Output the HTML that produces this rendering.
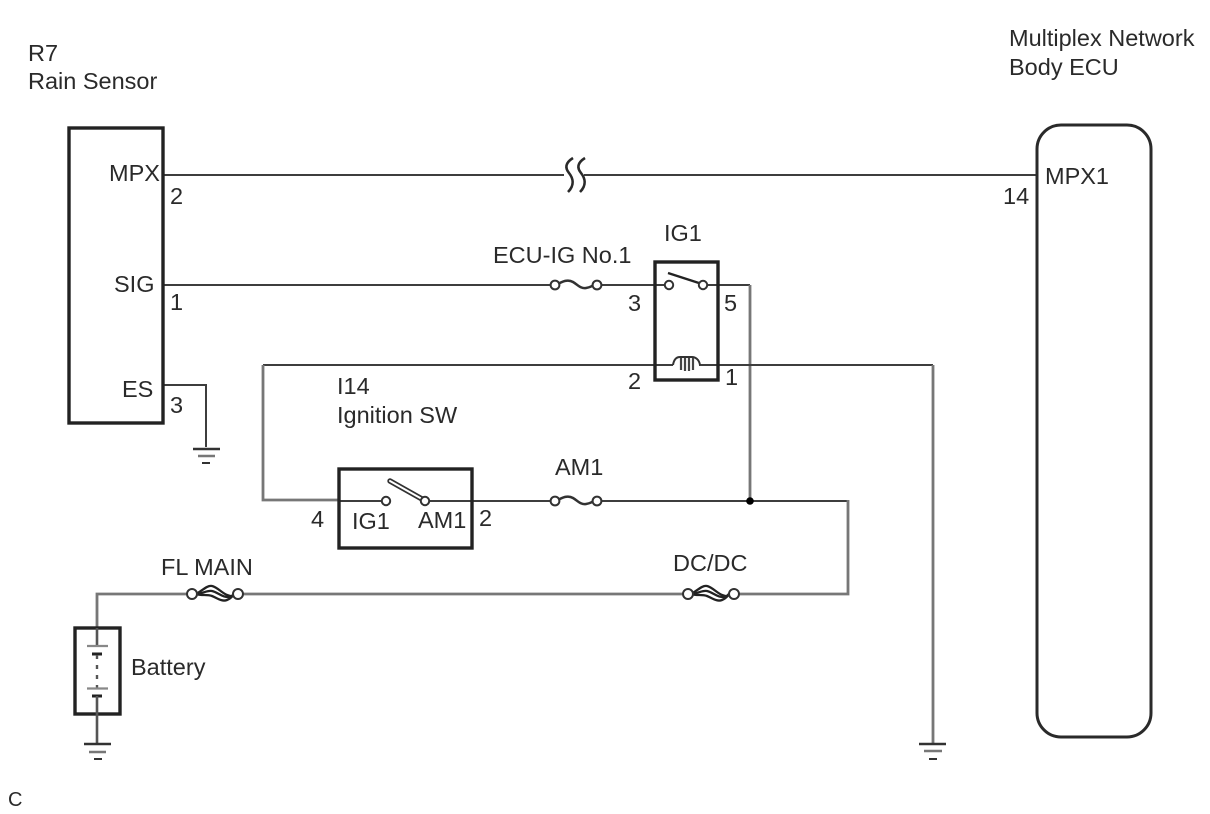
<!DOCTYPE html>
<html><head><meta charset="utf-8"><style>
html,body{margin:0;padding:0;background:#fff;width:1210px;height:814px;overflow:hidden}
svg{display:block}
text{font-family:"Liberation Sans",Arial,sans-serif;font-size:23.5px;fill:#2a2a2a}
.w{fill:none;stroke:#3c3c3c;stroke-width:2}
.g{fill:none;stroke:#777;stroke-width:2.8}
.b{fill:none;stroke:#222;stroke-width:3.4}
.c{fill:#fff;stroke:#333;stroke-width:2}
.f{fill:none;stroke:#333;stroke-width:2.5}
.gnd{stroke:#333;fill:none}
</style></head><body>
<svg width="1210" height="814" viewBox="0 0 1210 814" xmlns="http://www.w3.org/2000/svg">
<defs>
<filter id="s" x="-2%" y="-2%" width="104%" height="104%"><feGaussianBlur stdDeviation="0.35"/></filter>
</defs>
<g filter="url(#s)">
<!-- wires -->
<path class="w" d="M163 175H564M584 175H1037"/>
<path d="M573 158c-8 5-8 10-4 15s6 12-1 19M585 158c-8 5-8 10-4 15s6 12-1 19" fill="none" stroke="#2a2a2a" stroke-width="2.6"/>
<path class="w" d="M163 285H551M599 285H665"/>
<path class="w" d="M163 385H206V447"/>
<path class="w" d="M703 285H750"/>
<path class="g" d="M750 285V500" stroke-width="2.4"/>
<path class="w" d="M263 365H673M699 365H933"/>
<path class="g" d="M263 365V500H339" stroke-width="2.4"/>
<path class="g" d="M933 365V744" stroke-width="2.6"/>
<path class="w" d="M339 501H386M425 501H551M599 501H848"/>
<path class="g" d="M848 500V594H738M684 594H238M188 594H97V628"/>
<circle cx="750" cy="501" r="3.8" fill="#000"/>

<!-- boxes -->
<rect class="b" x="69" y="128" width="94" height="295"/>
<rect x="1037" y="125" width="114" height="612" rx="24" ry="24" fill="none" stroke="#2a2a2a" stroke-width="3"/>
<rect class="b" x="655" y="262" width="63" height="118"/>
<rect class="b" x="339" y="469" width="133" height="79"/>
<rect class="b" x="75" y="628" width="45" height="86" stroke="#333"/>

<!-- relay switch -->
<path d="M668 273L702 284" stroke="#222" stroke-width="2.4" fill="none"/>
<circle class="c" cx="669" cy="285" r="4.2"/>
<circle class="c" cx="703" cy="285" r="4.2"/>
<!-- relay coil -->
<path d="M673 365c1-6 4-8 7-8h12c3 0 7 2 8 8" fill="#fff" stroke="#333" stroke-width="2"/>
<path d="M681 358v12M685 358v13M689 358v13M693 358v12" stroke="#444" stroke-width="2.2" fill="none"/>

<!-- ignition switch -->
<path d="M390 481L422 499" stroke="#333" stroke-width="5.4" fill="none" stroke-linecap="round"/>
<path d="M390 481L422 499" stroke="#fff" stroke-width="2" fill="none" stroke-linecap="round"/>
<circle class="c" cx="386" cy="501" r="4.2"/>
<circle class="c" cx="425" cy="501" r="4.2"/>

<!-- fuses thin -->
<path class="f" d="M556 285c7-4 12-6 17-3s8 7 13 6 6-2 9-4"/>
<circle class="c" cx="555" cy="285" r="4.4"/>
<circle class="c" cx="597" cy="285" r="4.4"/>
<path class="f" d="M556 501c7-4 12-6 17-3s8 7 13 6 6-2 9-4"/>
<circle class="c" cx="555" cy="501" r="4.4"/>
<circle class="c" cx="597" cy="501" r="4.4"/>

<!-- fuses heavy -->
<g fill="none" stroke="#222" stroke-width="2.3">
<path d="M196 594c6-3 11-9 16-8s10 7 15 9 6 1 7-1"/>
<path d="M196 594c6 0 11-4 16-3s10 6 15 6 6-2 7-3"/>
<path d="M196 594c6 2 11 0 16 2s10 6 15 4 6-5 7-6"/>
<path d="M691 594c6-3 11-9 16-8s10 7 15 9 6 1 7-1"/>
<path d="M691 594c6 0 11-4 16-3s10 6 15 6 6-2 7-3"/>
<path d="M691 594c6 2 11 0 16 2s10 6 15 4 6-5 7-6"/>
</g>
<circle class="c" cx="192" cy="594" r="5"/>
<circle class="c" cx="238" cy="594" r="5"/>
<circle class="c" cx="688" cy="594" r="5"/>
<circle class="c" cx="734" cy="594" r="5"/>

<!-- battery -->
<path d="M97 628V646" stroke="#555" stroke-width="2.6" fill="none"/>
<path d="M87 646H108" stroke="#888" stroke-width="2.2" fill="none"/>
<path d="M92 654H102" stroke="#222" stroke-width="3" fill="none"/>
<path d="M97 655V659M97 665V669M97 675V679M97 685V688" stroke="#555" stroke-width="2.4" fill="none"/>
<path d="M87 688.500H108" stroke="#888" stroke-width="2.2" fill="none"/>
<path d="M92 696H102" stroke="#222" stroke-width="3" fill="none"/>
<path d="M97 696V744" stroke="#555" stroke-width="2.6" fill="none"/>

<!-- grounds -->
<g class="gnd">
<path d="M84 744H111" stroke-width="2.6"/><path d="M89 752H106" stroke="#777" stroke-width="2.4"/><path d="M94 759H102" stroke-width="2"/>
<path d="M193 449H220" stroke-width="2.6"/><path d="M198 456H215" stroke="#777" stroke-width="2.4"/><path d="M202 463H210" stroke-width="2"/>
<path d="M919 744H946" stroke-width="2.6"/><path d="M924 751H942" stroke="#777" stroke-width="2.4"/><path d="M929 759H937" stroke-width="2"/>
</g>

<!-- labels -->
<text x="28" y="61">R7</text>
<text x="28" y="89">Rain Sensor</text>
<text x="1009" y="46">Multiplex Network</text>
<text x="1009" y="75">Body ECU</text>
<text x="109" y="181">MPX</text>
<text x="170" y="204">2</text>
<text x="114" y="292">SIG</text>
<text x="170" y="310">1</text>
<text x="122" y="397">ES</text>
<text x="170" y="413">3</text>
<text x="1045" y="184">MPX1</text>
<text x="1003" y="204">14</text>
<text x="493" y="263">ECU-IG No.1</text>
<text x="664" y="241">IG1</text>
<text x="628" y="311">3</text>
<text x="724" y="311">5</text>
<text x="628" y="389">2</text>
<text x="725" y="385">1</text>
<text x="337" y="394">I14</text>
<text x="337" y="423">Ignition SW</text>
<text x="555" y="475">AM1</text>
<text x="311" y="527">4</text>
<text x="352" y="529">IG1</text>
<text x="418" y="528">AM1</text>
<text x="479" y="526">2</text>
<text x="161" y="575">FL MAIN</text>
<text x="673" y="571">DC/DC</text>
<text x="131" y="675">Battery</text>
<text x="8" y="806" style="font-size:20px">C</text>
</g>
</svg>
</body></html>
